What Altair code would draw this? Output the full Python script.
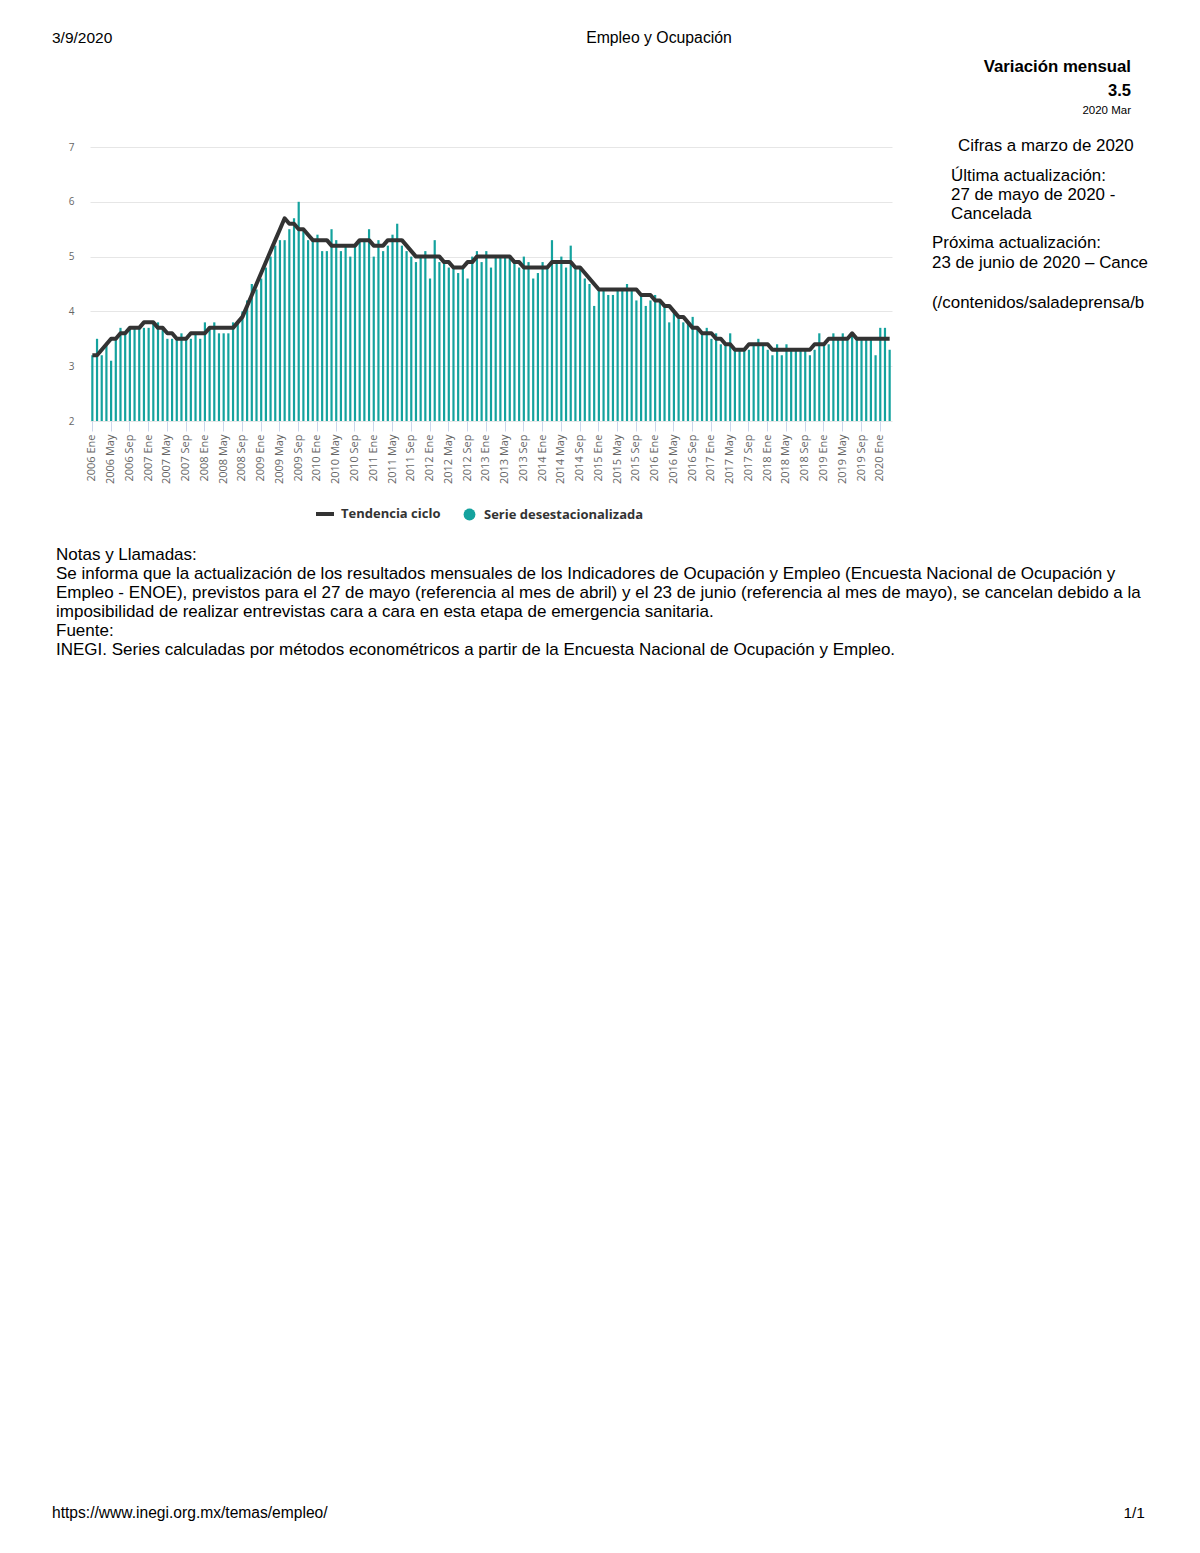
import altair as alt
import pandas as pd

meses = ["Ene", "Feb", "Mar", "Abr", "May", "Jun", "Jul", "Ago", "Sep", "Oct", "Nov", "Dic"]
periodos = [f"{y} {m}" for y in range(2006, 2021) for m in meses][:171]

serie_desest = [
    3.2, 3.5, 3.2, 3.4, 3.1, 3.5, 3.7, 3.6, 3.7, 3.7, 3.7, 3.7,   # 2006
    3.7, 3.8, 3.8, 3.7, 3.5, 3.5, 3.5, 3.6, 3.5, 3.5, 3.6, 3.5,   # 2007
    3.8, 3.7, 3.8, 3.6, 3.6, 3.6, 3.8, 3.8, 4.0, 4.2, 4.5, 4.4,   # 2008
    4.6, 4.8, 5.0, 5.2, 5.3, 5.3, 5.5, 5.7, 6.0, 5.5, 5.3, 5.3,   # 2009
    5.4, 5.1, 5.1, 5.5, 5.3, 5.1, 5.2, 5.0, 5.2, 5.3, 5.3, 5.5,   # 2010
    5.0, 5.3, 5.1, 5.2, 5.4, 5.6, 5.2, 5.1, 5.0, 4.9, 5.0, 5.1,   # 2011
    4.6, 5.3, 4.9, 4.9, 4.8, 4.8, 4.7, 4.8, 4.6, 5.0, 5.1, 4.9,   # 2012
    5.1, 4.8, 5.0, 5.0, 5.0, 5.0, 4.9, 4.8, 5.0, 4.9, 4.6, 4.7,   # 2013
    4.9, 4.8, 5.3, 4.9, 5.0, 4.8, 5.2, 4.8, 4.8, 4.6, 4.5, 4.1,   # 2014
    4.4, 4.4, 4.3, 4.3, 4.4, 4.4, 4.5, 4.4, 4.2, 4.3, 4.1, 4.2,   # 2015
    4.3, 4.2, 4.1, 3.8, 4.0, 3.9, 3.8, 3.8, 3.9, 3.7, 3.6, 3.7,   # 2016
    3.5, 3.6, 3.4, 3.4, 3.6, 3.3, 3.3, 3.3, 3.3, 3.4, 3.5, 3.4,   # 2017
    3.3, 3.2, 3.4, 3.2, 3.4, 3.3, 3.3, 3.3, 3.3, 3.2, 3.3, 3.6,   # 2018
    3.4, 3.4, 3.6, 3.5, 3.6, 3.5, 3.6, 3.5, 3.5, 3.5, 3.5, 3.2,   # 2019
    3.7, 3.7, 3.3,                                               # 2020
]

tendencia = [
    3.2, 3.2, 3.3, 3.4, 3.5, 3.5, 3.6, 3.6, 3.7, 3.7, 3.7, 3.8,
    3.8, 3.8, 3.7, 3.7, 3.6, 3.6, 3.5, 3.5, 3.5, 3.6, 3.6, 3.6,
    3.6, 3.7, 3.7, 3.7, 3.7, 3.7, 3.7, 3.8, 3.9, 4.1, 4.3, 4.5,
    4.7, 4.9, 5.1, 5.3, 5.5, 5.7, 5.6, 5.6, 5.5, 5.5, 5.4, 5.3,
    5.3, 5.3, 5.3, 5.2, 5.2, 5.2, 5.2, 5.2, 5.2, 5.3, 5.3, 5.3,
    5.2, 5.2, 5.2, 5.3, 5.3, 5.3, 5.3, 5.2, 5.1, 5.0, 5.0, 5.0,
    5.0, 5.0, 5.0, 4.9, 4.9, 4.8, 4.8, 4.8, 4.9, 4.9, 5.0, 5.0,
    5.0, 5.0, 5.0, 5.0, 5.0, 5.0, 4.9, 4.9, 4.8, 4.8, 4.8, 4.8,
    4.8, 4.8, 4.9, 4.9, 4.9, 4.9, 4.9, 4.8, 4.8, 4.7, 4.6, 4.5,
    4.4, 4.4, 4.4, 4.4, 4.4, 4.4, 4.4, 4.4, 4.4, 4.3, 4.3, 4.3,
    4.2, 4.2, 4.1, 4.1, 4.0, 3.9, 3.9, 3.8, 3.7, 3.7, 3.6, 3.6,
    3.6, 3.5, 3.5, 3.4, 3.4, 3.3, 3.3, 3.3, 3.4, 3.4, 3.4, 3.4,
    3.4, 3.3, 3.3, 3.3, 3.3, 3.3, 3.3, 3.3, 3.3, 3.3, 3.4, 3.4,
    3.4, 3.5, 3.5, 3.5, 3.5, 3.5, 3.6, 3.5, 3.5, 3.5, 3.5, 3.5,
    3.5, 3.5, 3.5,
]

etiquetas_x = periodos[::4]
y_ticks = [2, 3, 4, 5, 6, 7]

nombre_serie = "Serie desestacionalizada"
nombre_tend = "Tendencia ciclo"

df = pd.DataFrame({
    "periodo": periodos,
    "serie": serie_desest,
    "tendencia": tendencia,
    "s_lab": [nombre_serie] * len(periodos),
    "t_lab": [nombre_tend] * len(periodos),
})

W, H = 802, 274
TEAL = "#14a29e"
DARK = "#333333"
FONT = "Open Sans"
TFONT = "Liberation Sans"

x_enc = alt.X(
    "periodo:N",
    sort=periodos,
    scale=alt.Scale(domain=periodos, paddingInner=0, paddingOuter=0),
    axis=alt.Axis(
        values=etiquetas_x, title=None, labelAngle=-90, labelFontSize=11,
        labelColor="#666666", labelFont=FONT, domain=False,
        tickColor="#ccd6eb", tickSize=10, labelPadding=3, grid=False,
    ),
)
y_scale = alt.Scale(domain=[2, 7], zero=False, nice=False)
y_axis = alt.Axis(
    values=y_ticks, title=None, grid=True, gridColor="#e6e6e6", domain=False,
    ticks=False, labelFontSize=10, labelColor="#666666", labelFont=FONT,
    labelPadding=16,
)

barras = alt.Chart(df).mark_bar(size=2.2, clip=True).encode(
    x=x_enc,
    y=alt.Y("serie:Q", scale=y_scale, axis=y_axis),
    y2=alt.datum(2),
    fill=alt.Fill(
        "s_lab:N",
        scale=alt.Scale(domain=[nombre_serie], range=[TEAL]),
        legend=alt.Legend(
            title=None, orient="none", legendX=373, legendY=361,
            symbolType="circle", symbolSize=140, symbolStrokeWidth=0,
            labelFont=FONT, labelFontWeight="bold", labelFontSize=13,
            labelColor=DARK, padding=0, labelOffset=8,
        ),
    ),
)

linea = alt.Chart(df).mark_line(strokeWidth=4, strokeJoin="round").encode(
    x=alt.X("periodo:N", sort=periodos),
    y=alt.Y("tendencia:Q", scale=y_scale),
    stroke=alt.Stroke(
        "t_lab:N",
        scale=alt.Scale(domain=[nombre_tend], range=[DARK]),
        legend=alt.Legend(
            title=None, orient="none", legendX=224, legendY=356,
            symbolType="stroke", symbolSize=324, symbolStrokeWidth=4,
            labelFont=FONT, labelFontWeight="bold", labelFontSize=13,
            labelColor=DARK, padding=0, labelOffset=5,
        ),
    ),
)

uno = pd.DataFrame({"k": [0]})


def texto(s, x, y, size=15, weight="normal", align="left", color="#000000"):
    return alt.Chart(uno).mark_text(
        text=s, align=align, baseline="middle", fontSize=size,
        fontWeight=weight, font=TFONT, color=color,
    ).encode(x=alt.value(x), y=alt.value(y))


notas = [
    "Notas y Llamadas:",
    "Se informa que la actualización de los resultados mensuales de los Indicadores de Ocupación y Empleo (Encuesta Nacional de Ocupación y",
    "Empleo - ENOE), previstos para el 27 de mayo (referencia al mes de abril) y el 23 de junio (referencia al mes de mayo), se cancelan debido a la",
    "imposibilidad de realizar entrevistas cara a cara en esta etapa de emergencia sanitaria.",
    "Fuente:",
    "INEGI. Series calculadas por métodos econométricos a partir de la Encuesta Nacional de Ocupación y Empleo.",
]

textos = [
    texto("3/9/2020", -38, -109, size=15.5),
    texto("Empleo y Ocupación", 569, -109, size=15.8, align="center"),
    texto("Variación mensual", 1041, -80, size=16.8, weight="bold", align="right"),
    texto("3.5", 1041, -56, size=16.5, weight="bold", align="right"),
    texto("2020 Mar", 1041, -36, size=11.5, align="right"),
    texto("Cifras a marzo de 2020", 868, -1, size=16.9),
    texto("Última actualización:", 861, 29, size=16.9),
    texto("27 de mayo de 2020 -", 861, 48, size=16.9),
    texto("Cancelada", 861, 67, size=16.9),
    texto("Próxima actualización:", 842, 96, size=16.9),
    texto("23 de junio de 2020 – Cance", 842, 116, size=16.9),
    texto("(/contenidos/saladeprensa/b", 842, 156, size=16.9),
    texto("https://www.inegi.org.mx/temas/empleo/", -38, 1366, size=15.6),
    texto("1/1", 1055, 1366, size=15.5, align="right"),
]
for k, linea_txt in enumerate(notas):
    textos.append(texto(linea_txt, -34, 408 + 19 * k, size=17))

chart = alt.layer(barras, linea, *textos).resolve_legend(
    fill="independent", stroke="independent"
).properties(
    width=W,
    height=H,
    autosize="none",
    padding={"left": 82, "top": 139, "right": 300, "bottom": 1110},
    background="white",
).configure_view(stroke=None)

chart.save("out.html", embed_options={"renderer": "svg", "actions": False})
